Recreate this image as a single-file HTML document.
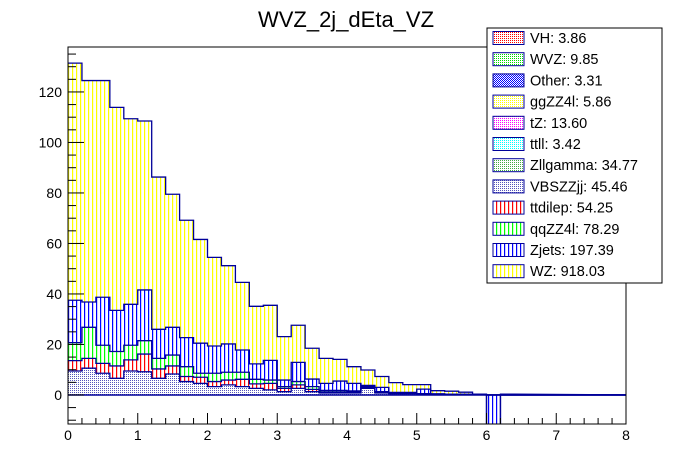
<!DOCTYPE html>
<html><head><meta charset="utf-8"><style>
html,body{margin:0;padding:0;background:#fff;}
svg{display:block;font-family:"Liberation Sans",sans-serif;}
</style></head><body>
<svg id="c" width="696" height="472" viewBox="0 0 696 472" xmlns="http://www.w3.org/2000/svg">
<defs>
<pattern id="pY" width="4" height="4" patternUnits="userSpaceOnUse"><rect width="4" height="4" fill="#fff"/><rect x="0" width="1.2" height="4" fill="#ffff00"/></pattern>
<pattern id="pB" width="4" height="4" patternUnits="userSpaceOnUse"><rect width="4" height="4" fill="#fff"/><rect x="0" width="1.2" height="4" fill="#0000ff"/></pattern>
<pattern id="pG" width="4" height="4" patternUnits="userSpaceOnUse"><rect width="4" height="4" fill="#fff"/><rect x="0" width="1.2" height="4" fill="#00ff00"/></pattern>
<pattern id="pR" width="4" height="4" patternUnits="userSpaceOnUse"><rect width="4" height="4" fill="#fff"/><rect x="0" width="1.2" height="4" fill="#ff0000"/></pattern>
<pattern id="dR" width="2" height="2" patternUnits="userSpaceOnUse"><rect width="2" height="2" fill="#fff"/><rect width="1" height="1" fill="#ff0000"/></pattern>
<pattern id="dG" width="2" height="2" patternUnits="userSpaceOnUse"><rect width="2" height="2" fill="#fff"/><rect width="1" height="1" fill="#00dd00"/></pattern>
<pattern id="dB" width="2" height="2" patternUnits="userSpaceOnUse"><rect width="2" height="2" fill="#fff"/><rect width="1" height="1" fill="#0000ff"/><rect x="1" y="1" width="1" height="1" fill="#0000ff"/></pattern>
<pattern id="dY" width="2" height="2" patternUnits="userSpaceOnUse"><rect width="2" height="2" fill="#fff"/><rect width="1" height="1" fill="#ffff00"/></pattern>
<pattern id="dM" width="2" height="2" patternUnits="userSpaceOnUse"><rect width="2" height="2" fill="#fff"/><rect width="1" height="1" fill="#ff00ff"/></pattern>
<pattern id="dC" width="2" height="2" patternUnits="userSpaceOnUse"><rect width="2" height="2" fill="#fff"/><rect width="1" height="1" fill="#00ffff"/></pattern>
<pattern id="dZ" width="2" height="2" patternUnits="userSpaceOnUse"><rect width="2" height="2" fill="#fff"/><rect width="1" height="1" fill="#44aa44"/></pattern>
<pattern id="dV" width="2" height="2" patternUnits="userSpaceOnUse"><rect width="2" height="2" fill="#fff"/><rect width="1" height="1" fill="#5555bb"/></pattern>
<clipPath id="frameClip"><rect x="68" y="47" width="558" height="377"/></clipPath>
</defs>
<text x="346" y="27" text-anchor="middle" font-size="22">WVZ_2j_dEta_VZ</text>
<g id="plot" clip-path="url(#frameClip)"></g>
<rect x="68" y="47" width="558" height="377" fill="none" stroke="#000" stroke-width="1"/>
<g id="axes"></g>
<g id="legend"></g>
</svg>
<script>
const binEdges0 = 0, binWidth = 0.2;
const otherVals = [9.5,10.6,8.6,6.6,9.5,9.2,6.6,8.3,5.3,4.6,3.3,4,3.3,2.6,2,1.3,2.6,1.3,0.8,0.8,0.8,2.6,0.8,0.5,0.5,0.4,0.3,0.2,0.2,0.1,0,0];
const ttdilepVals = [4.1,3.9,3.9,4.9,4.4,7,3.7,3.2,2,2.4,2,1.9,2.9,1.8,2.6,1.3,1.4,0.9,0.4,0.4,0.3,0.3,0.2,0.1,0.1,0,0,0,0,0,0,0];
const qqZZ4lVals = [7.1,12.3,7.2,5.7,5.8,5.3,4.2,4.3,3.9,1.6,3.3,3.1,2.8,1.8,1.3,0.7,1.3,1.1,0.6,0.6,0.5,0.4,0.3,0.2,0.2,0.1,0.1,0,0,0,0,0];
const zjetsVals = [16.8,10,19,16.3,16.2,20.1,11.5,11,11.5,11.9,10.8,11.2,8.8,6.1,7.8,2.6,7.6,3,2.8,3.7,3,0.5,1.7,0.2,0.2,1.8,0,0,0,0,-12,0];
const wzVals = [93.9,87.7,85.8,80.4,73.5,66.9,60.3,52.7,46.5,41.1,35.1,31,26.8,22.8,21.8,17.2,14.7,12.2,9.9,8.6,6.6,6.1,4.3,3.9,3.1,1.8,1.3,1.3,0.9,0.2,0,0.3];
const xTicks = [0,1,2,3,4,5,6,7,8];
const yTicks = [0,20,40,60,80,100,120];
const legendLabels = ["VH: 3.86","WVZ: 9.85","Other: 3.31","ggZZ4l: 5.86","tZ: 13.60","ttll: 3.42","Zllgamma: 34.77","VBSZZjj: 45.46","ttdilep: 54.25","qqZZ4l: 78.29","Zjets: 197.39","WZ: 918.03"];
const legendFills = ["url(#dR)","url(#dG)","url(#dB)","url(#dY)","url(#dM)","url(#dC)","url(#dZ)","url(#dV)","url(#pR)","url(#pG)","url(#pB)","url(#pY)"];

const NS="http://www.w3.org/2000/svg";
const X0=68,X1=626,Y0=424,Y1=47,xmin=0,xmax=8,ymin=-11.5,ymax=137.8;
function sx(v){return X0+(v-xmin)/(xmax-xmin)*(X1-X0);}
function sy(v){return Y0-(v-ymin)/(ymax-ymin)*(Y0-Y1);}
function mk(tag,attrs,parent){const e=document.createElementNS(NS,tag);for(const k in attrs)e.setAttribute(k,attrs[k]);parent.appendChild(e);return e;}
const plot=document.getElementById('plot');
const series=[
 {name:'other',vals:otherVals,fill:'url(#dV)'},
 {name:'ttdilep',vals:ttdilepVals,fill:'url(#pR)'},
 {name:'qqzz4l',vals:qqZZ4lVals,fill:'url(#pG)'},
 {name:'zjets',vals:zjetsVals,fill:'url(#pB)'},
 {name:'wz',vals:wzVals,fill:'url(#pY)'}
];
const n=wzVals.length;
const base=new Array(n).fill(0);
const tops=[];
series.forEach(s=>{
  const g=mk('g',{},plot);
  
  
  const t=[];
  for(let i=0;i<n;i++){
    const lo=base[i],hi=base[i]+s.vals[i];
    const a=Math.min(lo,hi),b=Math.max(lo,hi);
    if(b>a){
      const r=mk('rect',{x:sx(binEdges0+i*binWidth),y:sy(b),width:sx(binWidth)-sx(0),height:sy(a)-sy(b),fill:s.fill},g);
      
      
    }
    base[i]=hi;t.push(hi);
  }
  tops.push(t);
});
tops.forEach((t,k)=>{
  let d='M'+sx(0)+' '+sy(t[0]);
  for(let i=0;i<n;i++){
    d+=' L'+sx(binEdges0+i*binWidth)+' '+sy(t[i])+' L'+sx(binEdges0+(i+1)*binWidth)+' '+sy(t[i]);
  }
  d+=' L'+sx(8)+' '+sy(0);
  const p=mk('path',{d:d,fill:'none',stroke:'#000099','stroke-width':1.3},plot);
  
  
});
const zl=mk('line',{x1:sx(0),x2:sx(8),y1:sy(0),y2:sy(0),stroke:'#000099','stroke-width':1.5},plot);



const axes=document.getElementById('axes');
for(let v=0;v<=8.001;v+=0.2){
  const major=Math.abs(v-Math.round(v))<1e-6;
  mk('line',{x1:sx(v),x2:sx(v),y1:Y0,y2:Y0-(major?11:6),stroke:'#000'},axes);
}
xTicks.forEach(v=>{
  const t=mk('text',{x:sx(v),y:440,'text-anchor':'middle','font-size':14},axes);
  t.textContent=v;
  
  
});
for(let v=-10;v<=135;v+=5){
  const major=v%20===0;
  mk('line',{x1:X0,x2:X0+(major?16:8),y1:sy(v),y2:sy(v),stroke:'#000'},axes);
}
yTicks.forEach(v=>{
  const t=mk('text',{x:62,y:sy(v)+5,'text-anchor':'end','font-size':14},axes);
  t.textContent=v;
  
  
});

const lg=document.getElementById('legend');
const box=mk('rect',{x:487,y:28,width:175,height:255,fill:'#fff',stroke:'#000'},lg);


legendLabels.forEach((lab,i)=>{
  const cy=38+i*21.2;
  const g=mk('g',{},lg);
  
  
  mk('rect',{x:493,y:cy-6.5,width:31,height:13,fill:legendFills[i],stroke:'#000099','stroke-width':1},g);
  const t=mk('text',{x:530,y:cy+5,'font-size':14.5},g);
  t.textContent=lab;
});
</script>
</body></html>
